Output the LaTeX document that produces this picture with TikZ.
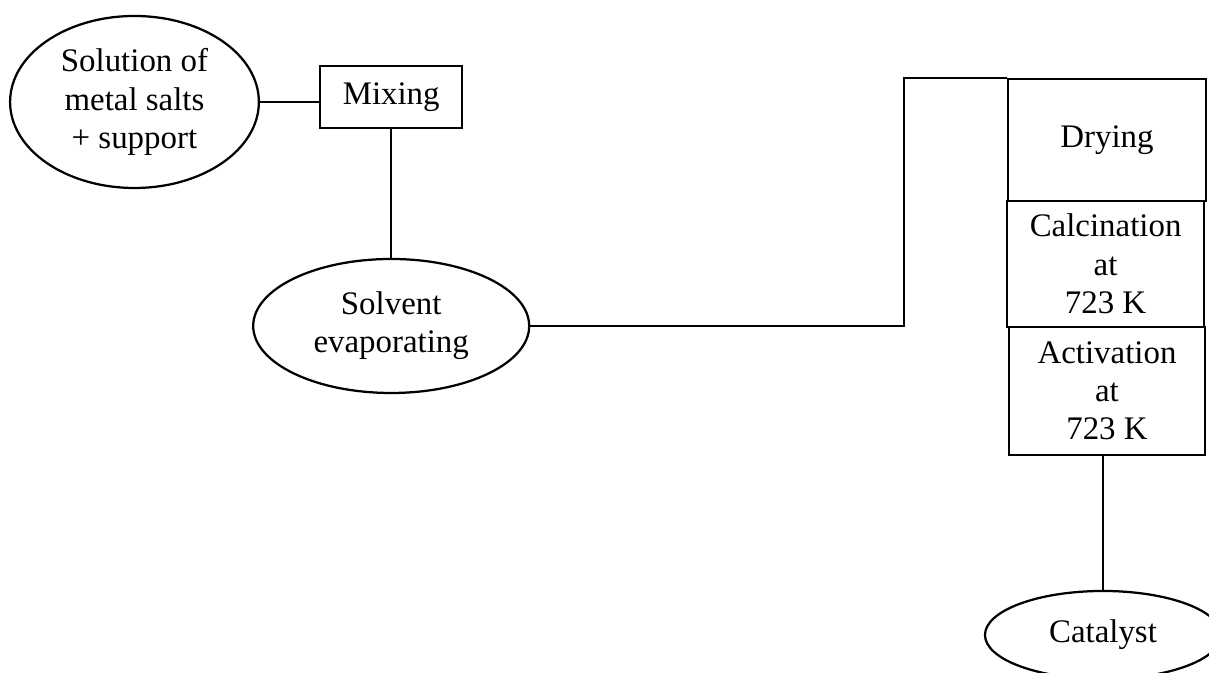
\documentclass[tikz,border=0pt]{standalone}
\usepackage{fontspec}
\setmainfont{Liberation Serif}
\usetikzlibrary{shapes.geometric}

\begin{document}
\begin{tikzpicture}[every node/.style={font=\fontsize{11.7}{13.6}\selectfont, align=center, inner sep=0pt},
		stage/.style={draw, thick, rectangle},
		blob/.style={draw, thick, ellipse}]
				\useasboundingbox (0,0) rectangle (15.1125,8.4125);
				\clip (0,0) rectangle (15.1125,8.4125);
				\node[blob, minimum width=3.11cm, minimum height=2.15cm] (sol) at (1.681,7.1375) {Solution of\\metal salts\\+ support};
				\node[stage, minimum width=1.775cm, minimum height=0.775cm] (mix) at (4.89,7.2) {Mixing};
				\node[blob, minimum width=3.45cm, minimum height=1.675cm] (solv) at (4.89,4.3375) {Solvent\\evaporating};
				\node[stage, minimum width=2.475cm, minimum height=1.525cm] (dry) at (13.8375,6.6625) {Drying};
				\node[stage, minimum width=2.4625cm, minimum height=1.575cm] (calc) at (13.82,5.1125) {Calcination\\at\\723 K};
				\node[stage, minimum width=2.45cm, minimum height=1.6cm] (act) at (13.8375,3.525) {Activation\\at\\723 K};
				\node[blob, minimum width=2.95cm, minimum height=1.1cm] (cat) at (13.7875,0.475) {Catalyst};
				\coordinate (bend) at (11.3,4.35);
				\draw[thick] (sol.east) -- (sol.east -| mix.west);
				\draw[thick] (mix.south) -- (solv.north);
				\draw[thick] (solv.east) -- (solv.east -| bend) -- (bend |- dry.north west) -- (dry.north west);
				\draw[thick] (act.south -| cat.north) -- (cat.north);
			\end{tikzpicture}
\end{document}
